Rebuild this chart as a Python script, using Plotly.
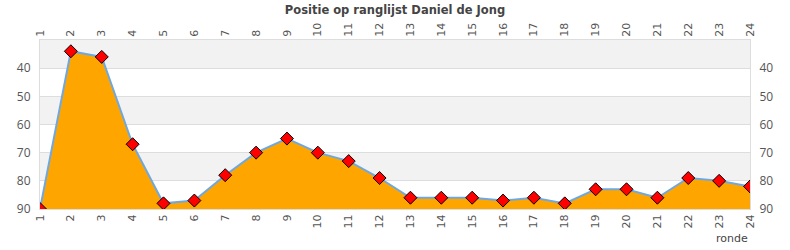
import plotly.graph_objects as go

rondes = list(range(1, 25))
posities = [90, 34, 36, 67, 88, 87, 78, 70, 65, 70, 73, 79, 86, 86, 86, 87, 86, 88, 83, 83, 86, 79, 80, 82]
y_ticks = [40, 50, 60, 70, 80, 90]
title = "Positie op ranglijst Daniel de Jong"

font_fam = "DejaVu Sans"
fig = go.Figure()

# baseline for the fill
fig.add_trace(go.Scatter(x=rondes, y=[90] * len(rondes), mode="lines",
                         line=dict(width=0), hoverinfo="skip", showlegend=False))
fig.add_trace(go.Scatter(x=rondes, y=posities, mode="lines+markers",
                         fill="tonexty", fillcolor="#ffa500",
                         line=dict(color="#6fa8e0", width=2),
                         marker=dict(symbol="diamond", size=10, color="#ff0000",
                                     line=dict(color="#000000", width=1)),
                         showlegend=False))
# invisible traces for secondary axes
fig.add_trace(go.Scatter(x=rondes, y=posities, xaxis="x2", yaxis="y2", mode="markers",
                         marker=dict(opacity=0), hoverinfo="skip", showlegend=False))

shapes = []
bands = [(30, 40), (50, 60), (70, 80)]
for a, b in bands:
    shapes.append(dict(type="rect", xref="paper", yref="y", x0=0, x1=1, y0=a, y1=b,
                       fillcolor="#f2f2f2", line=dict(width=0), layer="below"))

xtickfont = dict(family=font_fam, size=11, color="#555555")
ytickfont = dict(family="Open Sans", size=12, color="#555555")
fig.update_layout(
    width=790, height=250,
    margin=dict(l=40, r=40, t=40, b=41),
    plot_bgcolor="white", paper_bgcolor="white",
    title=dict(text=title, x=0.5, xanchor="center", y=0.96, yanchor="middle",
               font=dict(family=font_fam, size=11.5, color="#444444", weight="bold")),
    shapes=shapes,
    xaxis=dict(range=[1, 24], tickvals=rondes, tickangle=-90, tickfont=xtickfont,
               showgrid=False, zeroline=False, showline=True, linecolor="#dddddd",
               mirror=False, ticks=""),
    xaxis2=dict(range=[1, 24], tickvals=rondes, tickangle=-90, tickfont=xtickfont,
                overlaying="x", side="top", showgrid=False, zeroline=False,
                showline=True, linecolor="#dddddd", ticks=""),
    yaxis=dict(range=[90, 30], tickvals=y_ticks, tickfont=ytickfont, showgrid=True,
               gridcolor="#dddddd", gridwidth=1, zeroline=False, showline=True,
               linecolor="#dddddd", ticks="", ticklabelstandoff=6),
    yaxis2=dict(range=[90, 30], tickvals=y_ticks, tickfont=ytickfont, overlaying="y",
                side="right", showgrid=False, zeroline=False, showline=True,
                linecolor="#dddddd", ticks="", ticklabelstandoff=6),
    annotations=[dict(text="ronde", xref="paper", yref="paper", x=1.0, y=-0.172,
                      xanchor="right", yanchor="middle", showarrow=False,
                      font=dict(family=font_fam, size=11, color="#444444"))],
)

fig.write_html("out.html")
